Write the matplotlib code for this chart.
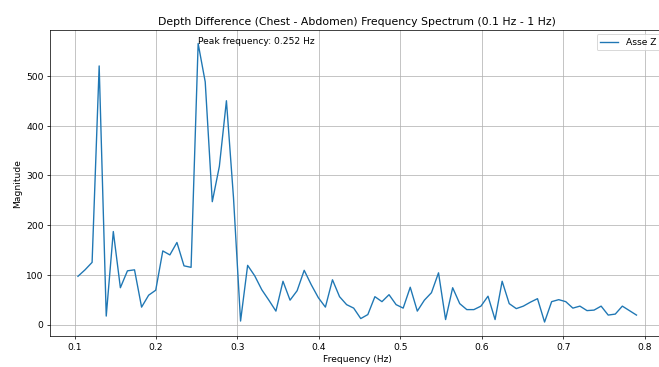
import numpy as np
import matplotlib
matplotlib.use("Agg")
import matplotlib.pyplot as plt

# FFT bin spacing and the retained bin range (0.1 - 0.8 Hz)
DF = 1 / 115.2
BIN_START = 12
BIN_STOP = 92

# Magnitude of chest-minus-abdomen depth signal, one value per bin
magnitude = [
    97, 110, 125, 520, 17, 187, 74, 108, 110, 35,
    59, 69, 148, 140, 165, 118, 115, 565, 488, 247,
    318, 450, 255, 7, 119, 98, 70, 49, 27, 87,
    49, 68, 109, 80, 54, 35, 90, 56, 40, 33,
    12, 20, 56, 46, 60, 40, 33, 75, 27, 49,
    64, 104, 10, 74, 42, 30, 30, 37, 57, 10,
    87, 42, 32, 37, 45, 52, 5, 46, 50, 46,
    33, 37, 28, 29, 37, 19, 21, 37, 28, 19,
]

freqs = np.arange(BIN_START, BIN_STOP) * DF
mags = np.array(magnitude, dtype=float)

peak_i = int(np.argmax(mags))
peak_f = freqs[peak_i]
peak_m = mags[peak_i]

DPI = 65.5
W, H = 659, 367
fig = plt.figure(figsize=((W + 0.4) / DPI, (H + 0.4) / DPI), dpi=DPI)
ax = fig.add_axes([50 / W, 1 - 336 / H, 614 / W, 306 / H])

ax.plot(freqs, mags, label="Asse Z")
ax.text(peak_f, peak_m, f"Peak frequency: {peak_f:.3f} Hz")

ax.set_title("Depth Difference (Chest - Abdomen) Frequency Spectrum (0.1 Hz - 1 Hz)")
ax.set_xlabel("Frequency (Hz)")
ax.set_ylabel("Magnitude")
ax.legend(loc="upper right")
ax.grid(True)

fig.savefig("out.png", dpi=DPI)
